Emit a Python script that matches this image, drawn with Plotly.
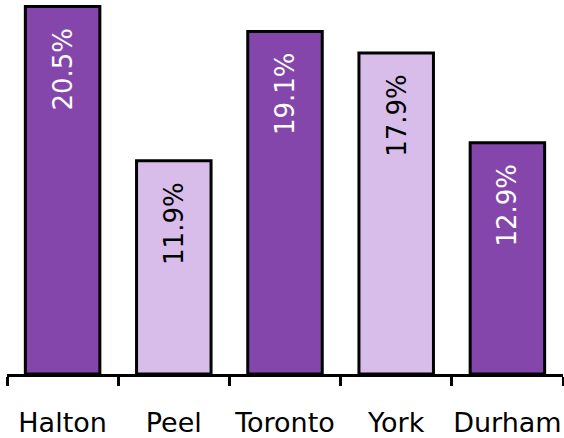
import plotly.graph_objects as go

regions = ["Halton", "Peel", "Toronto", "York", "Durham"]
values = [20.5, 11.9, 19.1, 17.9, 12.9]
labels = ["20.5%", "11.9%", "19.1%", "17.9%", "12.9%"]
bar_colors = ["#8446AB", "#D8BDEA", "#8446AB", "#D8BDEA", "#8446AB"]
text_colors = ["white", "black", "white", "black", "white"]

FONT = "DejaVu Sans"

fig = go.Figure()
fig.add_trace(go.Bar(
    x=regions, y=values,
    marker=dict(color=bar_colors, line=dict(color="black", width=3)),
    hoverinfo="skip",
    cliponaxis=False,
))

for r, v, t, c in zip(regions, values, labels, text_colors):
    fig.add_annotation(x=r, y=v, text=t, textangle=-90, showarrow=False,
                       xanchor="center", yanchor="top", yshift=-19,
                       font=dict(family=FONT, size=26, color=c))

fig.update_layout(
    width=564, height=438,
    margin=dict(l=7, r=1, t=0, b=64),
    paper_bgcolor="white", plot_bgcolor="white",
    bargap=0.33,
    showlegend=False,
    font=dict(family=FONT, size=27, color="black"),
    xaxis=dict(showline=True, linecolor="black", linewidth=3,
               ticks="outside", tickson="boundaries", ticklen=9,
               tickwidth=3, tickcolor="black", showgrid=False,
               tickangle=0, automargin=False, ticklabelstandoff=23,
               tickfont=dict(family=FONT, size=27, color="black")),
    yaxis=dict(range=[0, 20.86], visible=False, showgrid=False, zeroline=False,
               automargin=False),
)

fig.write_html("out.html", config={"displayModeBar": False},
               post_script="document.body.style.margin='0';")
